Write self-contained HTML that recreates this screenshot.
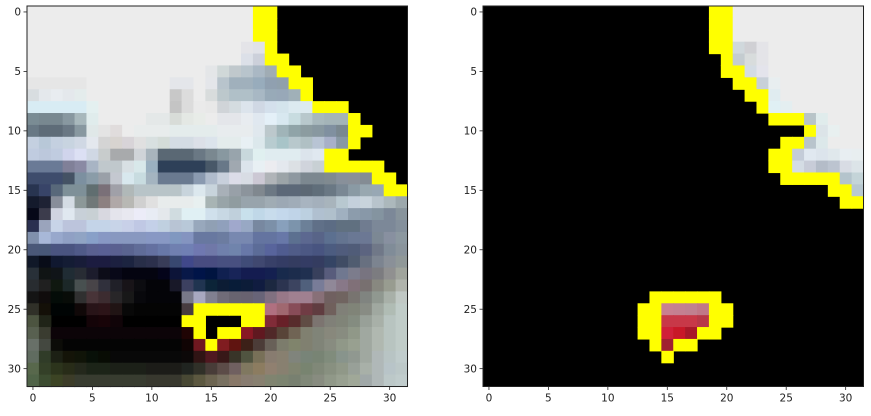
<!DOCTYPE html>
<html><head><meta charset="utf-8"><style>
html,body{margin:0;padding:0;background:#fff;}
svg text{font-family:"DejaVu Sans","Liberation Sans",sans-serif;font-size:10.5px;fill:#222;}
</style></head><body>
<svg id="fig" width="871" height="411" viewBox="0 0 871 411" xmlns="http://www.w3.org/2000/svg">
<g id="left"></g>
<g id="right"></g>
</svg>
<script>
const leftRows = [
"W*19 Y Y K*11",
"W*19 Y Y K*11",
"W*19 Y Y K*11",
"W*18 e4e4e8 e0e2e8 Y K*11",
"W*18 dce0e8 ccd0da Y Y K*10",
"W*15 e4e6e8 d0d8d8 c0c8cc b8c4cc aab8c4 a0acb4 Y Y K*9",
"e6e6e6*5 W*7 e4e6ea e4e6ea W e4e6ea b8c4cc a0b0bc a0b0bc 98acbc 90a0b0 90a0ac Y Y K*8",
"d8dde0 e4e8ec e8ecf0 e4e8ec e4ecec W*7 c8c8c8 dcdcdc W d8dcdc bcc8cc b0c0c8 b0c0c8 a8b8c4 98aab8 98a8b8 a0b0b8 Y K*8",
"d8ecf4*5 e4f0f0 W*6 c4c4c4 dcdcdc eaeaea e8e8e8 d0d4d8 d4dce0 dce4ec d0d8e4 d4e0ec d4e4ec dceaf0 dceaf0 Y Y Y K*5",
"7a8c94 788890 788890 8898a0 a8b8bc e0ecec W*4 e4e8e8 e4e8e8 d8dcd8 e4e8e4 e8ece8 W e4e6ea e4e6ea e8ecf0 e0e8f0 e4f0f8 d8e8f0 c8dce0 b8c8cc a8b8bc a4b4b8 a4b4b8 Y K*4",
"687884 5e6c78 5e6c78 6a7884 8898a0 e0e8e8 e4e4e4 e0dcdc W e8ecec e8ecec e8ecec e4ecec*4 e8ecee e8ecee e8ecee e0e8ee bcc8cc a0b4b8 90a4a8 8c9ca0 8898a0 8090a0 7a8890 Y Y K*3",
"c4d0e0 b8c8d8 c4d0e0 c8d4e0 d0d8e4 e4e8ee d4d4d4 d8d4d0 d8d4d8 e0e0e0 d8e0e0 d4dcd8 d4dce4 d4dce4 dce0e8 dce4ec e4ecec e4ecec e8f0f4 dce8ec b8ccd0 a8c4c8 b8c8cc b0c0c4 b8c4d4 a8b0c8 8898a4 Y K*4",
"c0cce0 bcc8dc c0cce0 d0d4ec dce0f4 d0d8e4 c8cccc a8aaac a8aaac d0d4d8 a8b4bc 5a6874 5a6874 5a6874 6a7884 7a8890 8898a0 98a4ac c8d8dc e0f0f0 e0ecf0 e0ecf0 e0ecf0 dce4ec e0e8f0 Y Y K*5",
"6a7a96 6a7a96 6a7a96 808098 8a8aa4 a8b4c4 c0c8cc c0c8cc d8e0e4 d8e8ea 9ab0c0 2e4058 2e4058 2e4058 2e4058 485868 687888 a0a8b0 dce4ec e8f0f4 ececf0 e4e8ee dce0e4 d0d4dc c8d0d4 Y*5 K*2",
"3e4c6c 3e4c6c 3e4c6c 445264 7c90a0 8a9ca8 9aa0a8 c4c8d0 d8e8ee c8dce0 a4b4c0 6a7a90 6a7a90 6a7a90 8a9ab0 b0bccc c8d0dc dcdce8 d8dce4 ccc8d4 b0b4b8 9ca4a8 8e98a0 7c8890 7c8890 808a90 88909a 8a9098 848c94 Y Y K",
"283450 384468 58687a 7e9098 7e9098 606e70 7a7078 a0a0a8 b0b8b8 b8c4c8 b8c4c8 b8c4c8 b8c4c8 c8d4dc dce8ee c8d4dc a8b0b8 98a0a8 8c949c 80888f 6c7884 5c6878 5c6878 5c6874 606e7a 6a7884 7a8894 8a9aa4 98a8b0 98a8b4 Y Y",
"141a2c 1e2234 888e9a d4dce4 8c9898 707878 8c8080 b0a8a8 b8b8b4 d0d0d0 e0e0e0 e8ecec e8ecec e8ecec e8f0f0 a8b4b4 98a4a8 909ca0 98a4ac 98a4ac a0acb4 9ca8b4 a0acb8 a8b4c0 a4b0bc a8b4bc b8c8d0 c4d0dc c8d4dc b8c4cc acb8bc 9ca8ac",
"060818 3c3c4c d0d4e0 e0e8f0 c8d0d8 c8d0d4 d8d8e0 e4e4ec e8e8f0 ececf8 e8ecf4 e4e8ec d0dce0 e0f0f4 e0f0f4 d0e0ec c8d8e4 c0d0dc c8e0ec c0d8e8 c8dcec c4d8ec c0d4e8 bcd0e0 b0c0d0 b0c0cc a0b0c0 8c9cac 8898a8 8494a0 7c8898 88949c",
"2a3050 9aa4bc c8d4e8 bcc4dc bcc4dc c4d4e8 c4d4e8 c8d4e8 c8d0e8 c0c8e4 c4d0e8 c0d0e0 b8c4d4 b8c8d8 98a8bc 90a0b4 90a0bc a0a8cc 98a8c4 7888a0 7c90a8 88a0bc 7c94ac 6c8098 607088 5c6c84 607080 607080 707c90 7c8898 7c8898 84909c",
"8090ac a8b8d8 98a8cc 90a0c4 90a4c4 88a0c8 8898c4 8898c0 8898c0 8898c0 8898c4 8898c4 8098c0 8494c0 6878a0 6878a0 6c7ca0 7888b0 7888b0 6474a0 6474a0 6878a8 5c7090 5c6890 586488 5c7090 647490 6a7894 6c7894 7c8894 8890a0 8c98a0",
"4a5878 485878 4a5480 4a5480 505a88 5a6090 5a6094 5a6090 5a6490 606c98 6470a0 6878a8 7080b0 7080b4 7078b0 7078a8 7080ac 7084ac 6878a8 5c6c98 58649c 505c90 505c88 4c5884 485480 4c5c80 505c7c 505c78 5c6480 707888 808c98 8a949c",
"101828 080c18 101830 141c34 181c38 1c1c40 1c1c40 1c2040 1c2440 282e48 2c304c 383c58 384870 40488a 484c80 484c80 485080 485080 404c78 404870 384068 343c64 343c60 343c64 343c60 344464 404c64 505c70 687080 7c8490 8a9098 909898",
"283038 101414 101418 202c34 282c34 1c1c2c 0c0c18 080818 040410 040410 040410 04041a 0c1438 081848 001448 001440 102050 182458 141c50 141c50 142050 182a4c 1c2c4c 203050 38405c 585c7c 707890 7c7c8c 787480 7c7c80 909090 a0a49c",
"282c30 202020 101810 1c2828 485050 484448 30303c 202028 181418 0c0c10 040408 040408 181828 3c4060 203450 0c2438 0c1c34 081c38 0c1c38 101c40 1c2840 2c3450 3c4460 50607c 787c98 908898 887888 807078 787070 888880 989c90 b0b4ac",
"141414 100c0c 040c08 080c08 303030 483438 3c2c30 282628 181818 08080c 040408 040408 040408 787888 a8a8c0 808090 706c78 686470 686270 686478 807080 987888 a08090 a08090 887078 706060 706460 787470 808480 909890 a8b0a8 c0c8c4",
"303028 141008 000404 000404 100808 281418 2c1418 201414 080808 040404 040404 040404 040404 483c40 Y Y Y Y Y Y b07080 a06870 884c58 703c44 603c40 70605c 808078 808478 888c84 a0a8a0 b0bcb4 c0ccc8",
"4c5440 202418 K K K 140408 180408 100408 K K K K K Y Y K K K Y Y 802c38 682028 582c2c 604c44 7c7470 808078 808478 848c80 98a098 a8b0a8 b8c4c0 c0ccc8",
"586050 3a3c30 0c0408*11 200404 Y K Y Y 881824 601820 502828 584438 706454 808070 808478 88887c 888c80 909888 a0a8a0 b0b8b0 b8c4c0 c0ccc8",
"687068 444840 0c0c08 040404*10 100404 701820 Y 801c20 601410 3c2018 4c3c38 686058 7c7c6c 80846c 808070 808478 888c80 909888 98a090 a0a8a0 b0b8b0 b8c4c0 c0ccc8",
"606c60 303c28 1c2014 141408 101408 081008 080c04 080808*6 0c0808 301414 501820 381818 383428 505440 787058 887c70 888070 80847c 788478 788474 808c7c 88948c 909890 a0a8a0 b0b8b8 b8c4c4 c0cccc",
"58684c 344028 2c341c 282c18 24281c 1c2418 1c2418 1c2018 1c2018 1c2018 1c1c18 1c1c18 1c1c18 202420 303028 483c38 5c4c48 706060 807860 8c7c60 908070 888070 808470 788470 808878 889080 909888 98a098 a8b0a8 b0b8b8 b8c4c8 bcc8c8",
"506448 3c4c30 3c4424 3c3c28 383c30*6 38382e*3 484834 5c5840 6c6450 787060 887868 887c70 888070 808470 7c8470 788070 808878 888c80 909888 98a090 a0a898 a0a8a8 b0b8b8 bcc8c8 c0cccc"
];
const rightRows = {
0:"19:Y Y W*11",1:"19:Y Y W*11",2:"19:Y Y W*11",
3:"19:Y Y d0d8dc d0d0d4 e4e4e8 W*8",
4:"20:Y c4ccd0 d8dcdc e4e4e8 W*8",
5:"20:Y Y d4dce4 e4e4ec W*8",
6:"21:Y Y c8d0d8 e8eef0 W*7",
7:"22:Y Y e0ecf0 W*7",
8:"23:Y e0f0f4 e4eef0 W*6",
9:"24:Y Y Y b8c4c8 e0ecec W*3",
10:"27:Y dce4e8 e8f0f0 W*2",
11:"25:Y Y b8c4cc dce8ea W*3",
12:"24:Y Y c4ccd8 e0e8f0 dce4ec e0e8ec e8eef2 e8eef0",
13:"24:Y Y d4dce4 c8ccd8 b4bcc8 bcc4d0 d8dce4 dce4e8",
14:"25:Y*5 b4c4cc c4d4d8",
15:"29:Y Y b8c8d0",
16:"30:Y Y",
24:"14:Y*6",
25:"13:Y Y c88090 c48090 c08090 c07888 Y Y",
26:"13:Y Y c83848 c83848 c83848 b83848 Y Y",
27:"13:Y Y d02038 c81828 a81828 Y Y",
28:"14:Y a02030 Y Y",
29:"15:Y"
};
const tickValues = [0,5,10,15,20,25,30];

const NS="http://www.w3.org/2000/svg";
const N=32, SIZE=380.5, CELL=SIZE/N, TOP=6;
function expand(s){
  const out=[];
  s.trim().split(/\s+/).forEach(t=>{
    let [c,n]=t.split('*'); n=n?parseInt(n):1;
    const col = c==='W'?'#ececec':c==='Y'?'#ffff00':c==='K'?'#000000':'#'+c;
    for(let i=0;i<n;i++) out.push(col);
  });
  while(out.length<N) out.push('#000000');
  return out;
}
function mk(tag,attrs,parent){const e=document.createElementNS(NS,tag);for(const k in attrs)e.setAttribute(k,attrs[k]);parent.appendChild(e);return e;}
function xs(x0,c){return x0+c*CELL;}
function ys(r){return TOP+r*CELL;}
function drawPanel(g,x0,grid,name){
  mk('rect',{x:x0,y:TOP,width:SIZE,height:SIZE,fill:'#000'},g);
  for(let r=0;r<N;r++){for(let c=0;c<N;c++){
    const col=grid[r][c]; if(col==='#000000')continue;
    mk('rect',{x:xs(x0,c).toFixed(2),y:ys(r).toFixed(2),width:(CELL+0.6).toFixed(2),height:(CELL+0.6).toFixed(2),fill:col},g);
  }}
  const fr=mk('rect',{x:x0,y:TOP,width:SIZE,height:SIZE,fill:'none',stroke:'#222','stroke-width':1},g);
  
  
  tickValues.forEach(v=>{
    const cx=xs(x0,v+0.5), cy=ys(v+0.5);
    mk('line',{x1:cx,y1:TOP+SIZE,x2:cx,y2:TOP+SIZE+3.5,stroke:'#222','stroke-width':0.8},g);
    const tx=mk('text',{x:cx,y:TOP+SIZE+15,'text-anchor':'middle'},g); tx.textContent=v;
    
    
    mk('line',{x1:x0,y1:cy,x2:x0-3.5,y2:cy,stroke:'#222','stroke-width':0.8},g);
    const ty=mk('text',{x:x0-6,y:cy+3.8,'text-anchor':'end'},g); ty.textContent=v;
    
    
  });
}
const leftGrid=leftRows.map(expand);
const rightGrid=[];
for(let r=0;r<N;r++){
  const row=new Array(N).fill('#000000');
  if(rightRows[r]){const [s,rest]=rightRows[r].split(':');const cells=expand(rest);cells.forEach((c,i)=>{if(parseInt(s)+i<N)row[parseInt(s)+i]=c;});}
  rightGrid.push(row);
}
drawPanel(document.getElementById('left'),27,leftGrid,'left-image');
drawPanel(document.getElementById('right'),483,rightGrid,'right-image');
</script>
</body></html>
